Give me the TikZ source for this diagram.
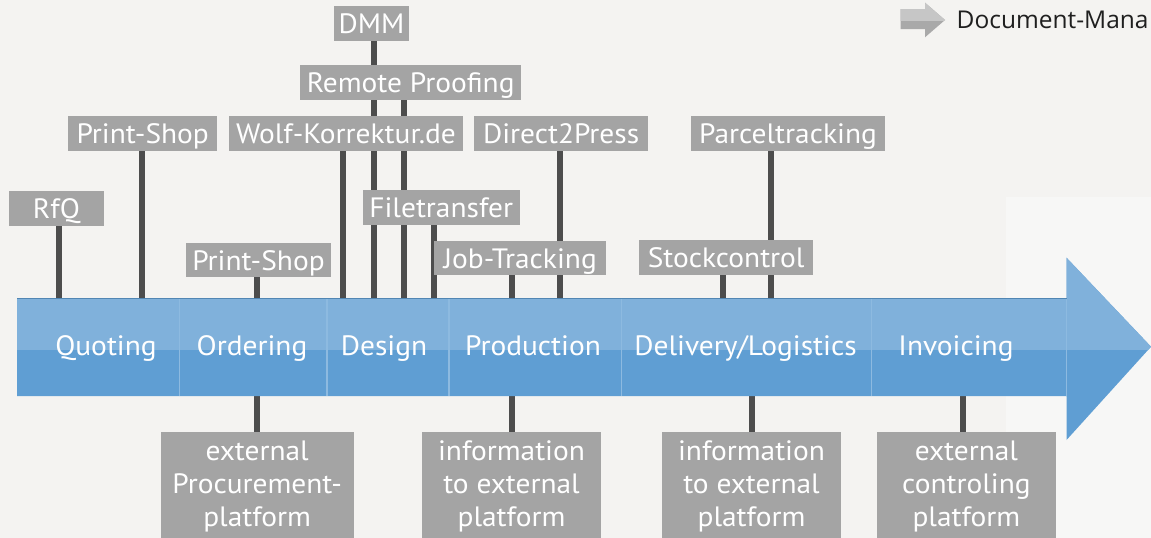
\documentclass[tikz,border=0pt]{standalone}
\usepackage{fontspec}
\setmainfont{PT Sans}[FakeStretch=1.05]
\newfontfamily\legfont{Open Sans}
\pgfdeclarelayer{back}
\pgfdeclarelayer{bg}
\pgfsetlayers{back,bg,main}
\definecolor{bgc}{HTML}{F4F3F1}
\definecolor{bgl}{HTML}{F7F7F6}
\definecolor{boxc}{HTML}{A4A4A4}
\definecolor{linec}{HTML}{4D4D4D}
\definecolor{bandtopc}{HTML}{80B1DB}
\definecolor{bandbotc}{HTML}{5F9ED3}
\definecolor{divc}{HTML}{8DBAE0}
\definecolor{legtop}{HTML}{C6C6C6}
\definecolor{legbot}{HTML}{A9A9A9}
\begin{document}
\begin{tikzpicture}[x=1pt,y=-1pt,
  lbl/.style={fill=boxc,text=white,inner sep=0pt,text height=27.6pt,text depth=7pt,
    anchor=north,font=\fontsize{28}{33}\selectfont},
  ext/.style={fill=boxc,text=white,inner sep=0pt,minimum height=109pt,
    align=center,font=\fontsize{28}{33}\selectfont},
  seg/.style={text=white,inner sep=0pt,anchor=base,font=\fontsize{28}{33}\selectfont},
  conn/.style={draw=linec,line width=6pt},
  divider/.style={draw=divc,line width=1.2pt}]
\useasboundingbox (0,0) rectangle (1151,538);
\begin{pgfonlayer}{back}
\fill[bgc] (0,0) rectangle (1151,538);
\fill[bgl] (1006,197) rectangle (1151,538);
\end{pgfonlayer}
% band arrow
\coordinate (bandtop) at (0,298);
\coordinate (bandbot) at (0,396);
\fill[bandbotc] (17,298) -- (1066.5,298) -- (1066.5,257.7) -- (1151,346.7)
  -- (1066.5,440) -- (1066.5,396) -- (17,396) -- cycle;
\begin{scope}
\clip (0,0) rectangle (1151,349);
\fill[bandtopc] (17,298) -- (1066.5,298) -- (1066.5,257.7) -- (1151,346.7)
  -- (1066.5,440) -- (1066.5,396) -- (17,396) -- cycle;
\end{scope}
\draw[draw=bandbotc!85!black,line width=0.8pt] (17,298.4) -- (1066.5,298.4);
\foreach \dx in {179.3,327,449,621.8,871.2,1066.3}
  \draw[divider] (\dx,298.8) -- (\dx,396);
% band labels
\node[seg] (quoting) at (106,355) {Quoting};
\node[seg] (ordering) at (252,355) {Ordering};
\node[seg] (design) at (384,355) {Design};
\node[seg] (production) at (533,355) {Production};
\node[seg] (delivery) at (745.5,355) {Delivery/Logistics};
\node[seg] (invoicing) at (956,355) {Invoicing};
% top labels
\node[lbl,minimum width=74.6pt] (dmm) at (371.6,5.7) {DMM};
\node[lbl,minimum width=221.2pt] (remote) at (410.7,65) {Remote Proofing};
\node[lbl,minimum width=149.5pt] (ps1) at (142.7,115.7) {Print-Shop};
\node[lbl,minimum width=234pt] (wolf) at (345.9,115.7) {Wolf-Korrektur.de};
\node[lbl,minimum width=173.6pt] (d2p) at (561.1,115.7) {Direct2Press};
\node[lbl,minimum width=194.3pt] (parcel) at (788,115.7) {Parceltracking};
\node[lbl,minimum width=95.2pt] (rfq) at (56.4,191) {RfQ};
\node[lbl,minimum width=157.2pt] (filet) at (441.2,189.7) {Filetransfer};
\node[lbl,minimum width=145.1pt] (ps2) at (258.5,242.3) {Print-Shop};
\node[lbl,minimum width=172.5pt] (job) at (520.2,240.3) {Job-Tracking};
\node[lbl,minimum width=173.5pt] (stock) at (726.2,240) {Stockcontrol};
% bottom labels
\node[ext,minimum width=193.3pt] (proc) at (257.2,486.5) {external\\Procurement-\\platform};
\node[ext,minimum width=179.6pt] (info1) at (511.5,486.5) {information\\to external\\platform};
\node[ext,minimum width=179.3pt] (info2) at (751.5,486.5) {information\\to external\\platform};
\node[ext,minimum width=179.3pt] (ctrl) at (966.4,486.5) {external\\controling\\platform};
% legend
\fill[legbot] (900.7,9) -- (925,9) -- (925,2.7) -- (945,20) -- (925,37.3) -- (925,29) -- (900.7,29) -- cycle;
\begin{scope}
\clip (890,0) rectangle (950,20);
\fill[legtop] (900.7,9) -- (925,9) -- (925,2.7) -- (945,20) -- (925,37.3) -- (925,29) -- (900.7,29) -- cycle;
\end{scope}
\node[anchor=base west,inner sep=0pt,text=black!88,font=\legfont\fontsize{24.5}{28}\selectfont] (legend) at (956.5,28.3) {Document-Mana};
% connectors
\begin{pgfonlayer}{bg}
\draw[conn] ([xshift=2pt]dmm.south) -- ([xshift=2pt]dmm.south |- bandtop);
\draw[conn] ([xshift=-7pt]remote.south) -- ([xshift=-7pt]remote.south |- bandtop);
\draw[conn] ([xshift=-2.6pt]wolf.south) -- ([xshift=-2.6pt]wolf.south |- bandtop);
\draw[conn] ([xshift=-7.3pt]filet.south) -- ([xshift=-7.3pt]filet.south |- bandtop);
\draw[conn] ([xshift=-8.5pt]job.south) -- ([xshift=-8.5pt]job.south |- bandtop);
\draw[conn] ([xshift=-1.6pt]d2p.south) -- ([xshift=-1.6pt]d2p.south |- bandtop);
\draw[conn] ([xshift=-0.5pt]ps1.south) -- ([xshift=-0.5pt]ps1.south |- bandtop);
\draw[conn] ([xshift=2.4pt]rfq.south) -- ([xshift=2.4pt]rfq.south |- bandtop);
\draw[conn] ([xshift=-1.7pt]ps2.south) -- ([xshift=-1.7pt]ps2.south |- bandtop);
\draw[conn] ([xshift=-3.2pt]stock.south) -- ([xshift=-3.2pt]stock.south |- bandtop);
\draw[conn] ([xshift=-16.9pt]parcel.south) -- ([xshift=-16.9pt]parcel.south |- bandtop);
\draw[conn] ([xshift=-0.4pt]proc.north) -- ([xshift=-0.4pt]proc.north |- bandbot);
\draw[conn] ([xshift=0.2pt]info1.north) -- ([xshift=0.2pt]info1.north |- bandbot);
\draw[conn] ([xshift=0.1pt]info2.north) -- ([xshift=0.1pt]info2.north |- bandbot);
\draw[conn] ([xshift=-3.5pt]ctrl.north) -- ([xshift=-3.5pt]ctrl.north |- bandbot);
\end{pgfonlayer}
\end{tikzpicture}
\end{document}
